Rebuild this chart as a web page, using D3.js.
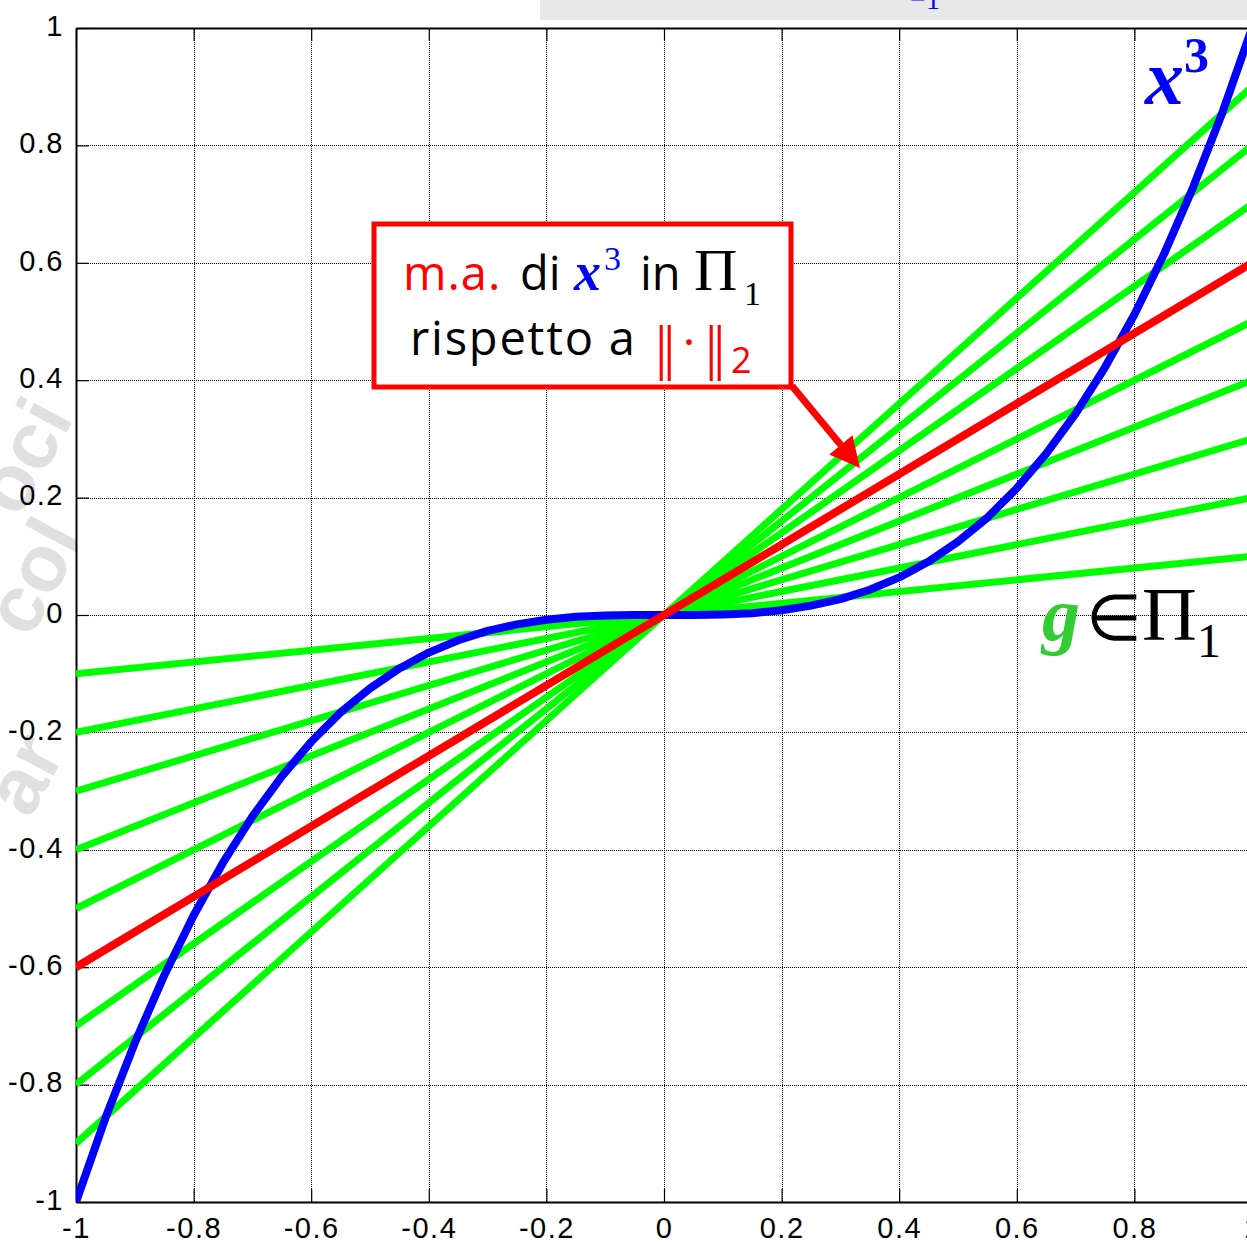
<!DOCTYPE html>
<html>
<head>
<meta charset="utf-8">
<script src="https://cdn.jsdelivr.net/npm/d3@7"></script>
<style>
  body { margin: 0; background: #fff; }
  svg { display: block; }
</style>
</head>
<body>
<div id="chart"></div>
<script>
// tick values
const xTicks = [-1, -0.8, -0.6, -0.4, -0.2, 0, 0.2, 0.4, 0.6, 0.8, 1];
const yTicks = [-1, -0.8, -0.6, -0.4, -0.2, 0, 0.2, 0.4, 0.6, 0.8, 1];

// green lines g in Pi_1: value at x=-1 and at x=1
const greenLeft = [-0.1, -0.2, -0.3, -0.4, -0.5, -0.7, -0.8, -0.9];
const greenRight = [0.1, 0.2, 0.3, 0.4, 0.5, 0.7, 0.8, 0.9];

// best approximation (red)
const bestLeft = -0.6;
const bestRight = 0.6;

// x^3 curve
const cubeX = [-1, -0.95, -0.9, -0.85, -0.8, -0.75, -0.7, -0.65, -0.6, -0.55, -0.5, -0.45, -0.4, -0.35, -0.3, -0.25, -0.2, -0.15, -0.1, -0.05, 0,
               0.05, 0.1, 0.15, 0.2, 0.25, 0.3, 0.35, 0.4, 0.45, 0.5, 0.55, 0.6, 0.65, 0.7, 0.75, 0.8, 0.85, 0.9, 0.95, 1];
const cubeY = [-1, -0.857, -0.729, -0.614, -0.512, -0.422, -0.343, -0.275, -0.216, -0.166, -0.125, -0.091, -0.064, -0.043, -0.027, -0.016, -0.008, -0.003, -0.001, 0, 0,
               0, 0.001, 0.003, 0.008, 0.016, 0.027, 0.043, 0.064, 0.091, 0.125, 0.166, 0.216, 0.275, 0.343, 0.422, 0.512, 0.614, 0.729, 0.857, 1];

const width = 1247, height = 1242;
const marginLeft = 76, marginTop = 28, plotBottom = 1202;

const svg = d3.select('#chart').append('svg')
    .attr('width', width)
    .attr('height', height)
    .attr('viewBox', [0, 0, width, height]);

const x = d3.scaleLinear().domain([-1, 1]).range([marginLeft, 1252]);
const y = d3.scaleLinear().domain([-1, 1]).range([plotBottom, marginTop]);

// faded watermark behind the plot (only the edges show)
const wm = svg.append('g')
    .attr('fill', '#e0e0e0')
    .attr('font-family', 'Liberation Sans, Arial, sans-serif')
    .attr('font-weight', 'bold')
    .attr('font-size', 80);
wm.append('text').attr('transform', 'translate(20,520) rotate(-62)').text('oci');
wm.append('text').attr('transform', 'translate(30,640) rotate(-62)').text('col');
wm.append('text').attr('transform', 'translate(30,820) rotate(-62)').text('ar');

// top grey strip with cut text
svg.append('rect')
    .attr('x', 540).attr('y', 0)
    .attr('width', width - 540).attr('height', 20)
    .attr('fill', '#e8e8e8');
svg.append('text')
    .attr('x', 925).attr('y', 9)
    .attr('text-anchor', 'middle')
    .attr('fill', '#0000ff')
    .attr('font-family', 'Liberation Serif, Times New Roman, serif')
    .attr('font-size', 28)
    .text('−1');

// plot background
svg.append('rect')
    .attr('x', marginLeft).attr('y', marginTop)
    .attr('width', x(1) - marginLeft).attr('height', plotBottom - marginTop)
    .attr('fill', '#fff');

svg.append('clipPath').attr('id', 'plotClip')
    .append('rect')
    .attr('x', marginLeft).attr('y', marginTop)
    .attr('width', x(1) - marginLeft).attr('height', plotBottom - marginTop);

// grid
const grid = svg.append('g')
    .attr('stroke', '#000')
    .attr('stroke-width', 1)
    .attr('stroke-dasharray', '1,1')
    .attr('shape-rendering', 'crispEdges');
grid.selectAll('line.v')
    .data(xTicks.slice(1, -1))
    .join('line')
    .attr('class', 'v')
    .attr('x1', d => Math.round(x(d)) + 0.5).attr('x2', d => Math.round(x(d)) + 0.5)
    .attr('y1', marginTop).attr('y2', plotBottom);
grid.selectAll('line.h')
    .data(yTicks.slice(1, -1))
    .join('line')
    .attr('class', 'h')
    .attr('x1', marginLeft).attr('x2', x(1))
    .attr('y1', d => Math.round(y(d)) + 0.5).attr('y2', d => Math.round(y(d)) + 0.5);

const fmt = d => String(d).replace('−', '-');

// axes (ticks inward)
svg.append('g')
    .attr('transform', `translate(0,${plotBottom})`)
    .call(d3.axisBottom(x).tickValues(xTicks).tickSizeInner(-13).tickSizeOuter(0).tickPadding(15).tickFormat(fmt))
    .call(g => g.select('.domain').attr('stroke-width', 2))
    .call(g => g.selectAll('.tick text')
        .attr('font-family', 'Liberation Sans, Arial, sans-serif')
        .attr('font-size', 29)
        .attr('letter-spacing', 1.5)
        .attr('fill', '#000'));

svg.append('g')
    .attr('transform', `translate(0,${marginTop})`)
    .call(d3.axisTop(x).tickValues(xTicks).tickSizeInner(-13).tickSizeOuter(0).tickFormat(''))
    .call(g => g.select('.domain').attr('stroke-width', 2));

svg.append('g')
    .attr('transform', `translate(${marginLeft},0)`)
    .call(d3.axisLeft(y).tickValues(yTicks).tickSizeInner(-13).tickSizeOuter(0).tickPadding(12).tickFormat(fmt))
    .call(g => g.select('.domain').attr('stroke-width', 2))
    .call(g => g.selectAll('.tick text')
        .attr('font-family', 'Liberation Sans, Arial, sans-serif')
        .attr('font-size', 29)
        .attr('letter-spacing', 1.5)
        .attr('dy', '0.25em')
        .attr('fill', '#000'));

svg.selectAll('.tick line').attr('stroke', '#000').attr('stroke-width', 1.2);

// curves
const curves = svg.append('g').attr('clip-path', 'url(#plotClip)');
const line = d3.line().x(d => x(d[0])).y(d => y(d[1]));

curves.selectAll('path.green')
    .data(d3.range(greenLeft.length))
    .join('path')
    .attr('class', 'green')
    .attr('fill', 'none')
    .attr('stroke', '#00ff00')
    .attr('stroke-width', 7)
    .attr('d', i => line([[-1, greenLeft[i]], [1, greenRight[i]]]));

curves.append('path')
    .attr('fill', 'none')
    .attr('stroke', '#0000ff')
    .attr('stroke-width', 8)
    .attr('stroke-linejoin', 'round')
    .attr('d', line(cubeX.map((v, i) => [v, cubeY[i]])));

curves.append('path')
    .attr('fill', 'none')
    .attr('stroke', '#ff0000')
    .attr('stroke-width', 8)
    .attr('d', line([[-1, bestLeft], [1, bestRight]]));

// annotation box with arrow
const box = { x0: 374, y0: 224, x1: 791, y1: 387 };
svg.append('rect')
    .attr('x', box.x0).attr('y', box.y0)
    .attr('width', box.x1 - box.x0).attr('height', box.y1 - box.y0)
    .attr('fill', '#fff')
    .attr('stroke', '#ff0000')
    .attr('stroke-width', 5);

const tip = [860, 468], tail = [792, 386];
const ang = Math.atan2(tip[1] - tail[1], tip[0] - tail[0]);
const headLen = 30, headW = 15;
const base = [tip[0] - headLen * Math.cos(ang), tip[1] - headLen * Math.sin(ang)];
svg.append('line')
    .attr('x1', tail[0]).attr('y1', tail[1])
    .attr('x2', base[0]).attr('y2', base[1])
    .attr('stroke', '#ff0000')
    .attr('stroke-width', 7);
svg.append('path')
    .attr('fill', '#ff0000')
    .attr('d', `M${tip[0]},${tip[1]}L${base[0] + headW * Math.sin(ang)},${base[1] - headW * Math.cos(ang)}L${base[0] - headW * Math.sin(ang)},${base[1] + headW * Math.cos(ang)}Z`);

const sans = 'Open Sans, Lato, sans-serif';
const serif = 'Liberation Serif, Times New Roman, serif';

const t1 = svg.append('text')
    .attr('y', 290)
    .attr('font-family', sans)
    .attr('font-size', 47);
t1.append('tspan').attr('x', 403).attr('fill', '#ff0000').attr('letter-spacing', 1).text('m.a.');
t1.append('tspan').attr('x', 520).attr('fill', '#000').text('di');
t1.append('tspan').attr('x', 574).attr('fill', '#0000ff').attr('font-family', serif).attr('font-weight', 'bold').attr('font-style', 'italic').attr('font-size', 54).text('x');
t1.append('tspan').attr('x', 604).attr('fill', '#0000ff').attr('font-family', serif).attr('font-size', 34).attr('dy', -20).text('3');
t1.append('tspan').attr('x', 640).attr('fill', '#000').attr('dy', 20).text('in');
t1.append('tspan').attr('x', 694).attr('fill', '#000').attr('font-family', serif).attr('font-size', 60).text('Π');
t1.append('tspan').attr('x', 744).attr('fill', '#000').attr('font-family', serif).attr('font-size', 34).attr('dy', 15).text('1');

const t2 = svg.append('text')
    .attr('y', 355)
    .attr('font-family', sans)
    .attr('font-size', 47);
t2.append('tspan').attr('x', 410).attr('fill', '#000').attr('letter-spacing', 1.8).text('rispetto a');
[655, 705].forEach(bx => {
    t2.append('tspan').attr('x', bx).attr('y', 368)
        .attr('fill', '#ff0000').attr('font-family', serif).attr('font-size', 62)
        .attr('letter-spacing', -4.5).text('||');
});
t2.append('tspan').attr('x', 681).attr('y', 358).attr('fill', '#ff0000').attr('font-family', serif).attr('font-size', 48).text('·');
t2.append('tspan').attr('x', 731).attr('y', 373).attr('fill', '#ff0000').attr('font-size', 36).text('2');

// curve labels
const xl = svg.append('text')
    .attr('x', 1145).attr('y', 104)
    .attr('fill', '#0000ff')
    .attr('font-family', serif)
    .attr('font-weight', 'bold');
xl.append('tspan').attr('font-style', 'italic').attr('font-size', 78).text('x');
xl.append('tspan').attr('font-size', 50).attr('dy', -32).text('3');

const gl = svg.append('text')
    .attr('x', 1042).attr('y', 640)
    .attr('font-family', serif)
    .attr('font-size', 76);
gl.append('tspan').attr('fill', '#33cc33').attr('font-weight', 'bold').attr('font-style', 'italic').text('g');
gl.append('tspan').attr('fill', '#000').attr('font-size', 64).attr('dx', 6).text('∈');
gl.append('tspan').attr('fill', '#000').text('Π');
gl.append('tspan').attr('fill', '#000').attr('font-size', 48).attr('dy', 17).text('1');
</script>
</body>
</html>
